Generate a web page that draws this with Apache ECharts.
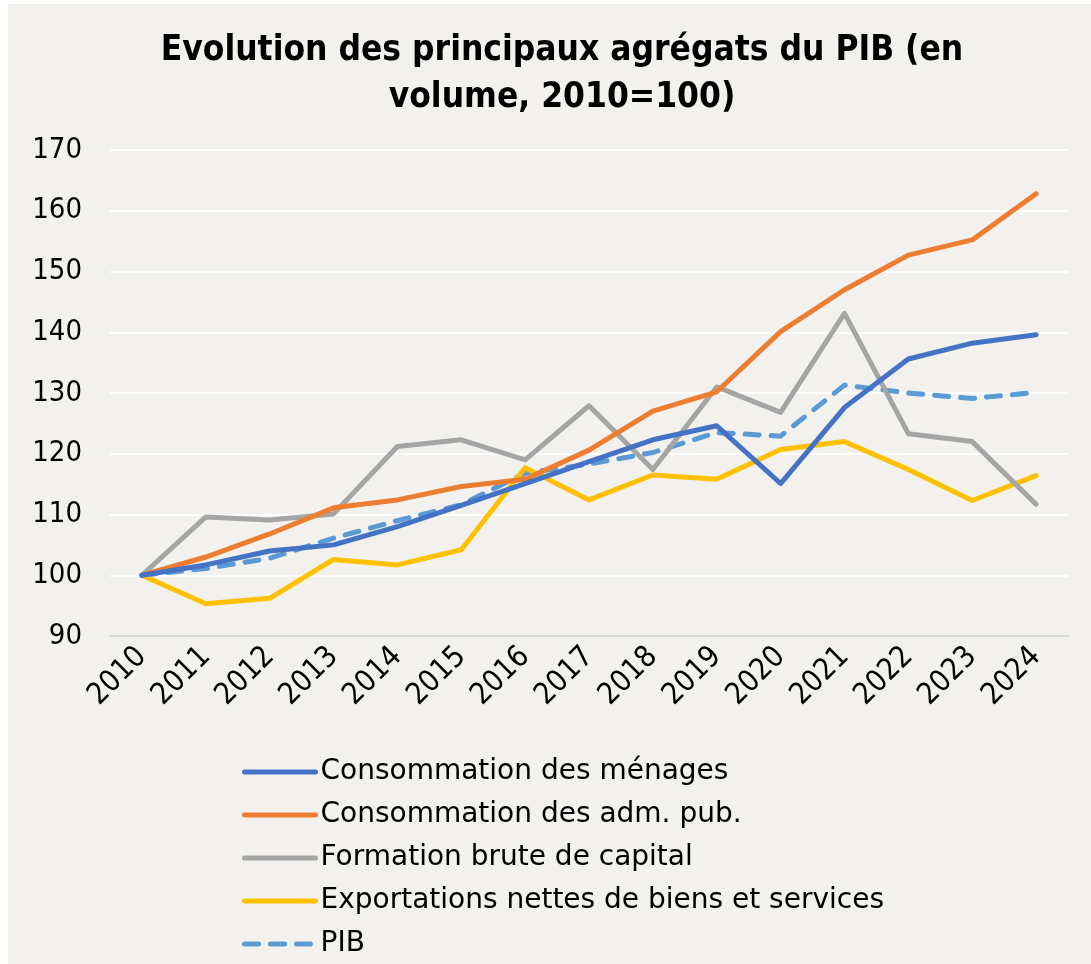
<!DOCTYPE html>
<html>
<head>
<meta charset="utf-8">
<script src="https://cdn.jsdelivr.net/npm/echarts@6/dist/echarts.min.js"></script>
<style>
  html, body { margin: 0; padding: 0; background: #ffffff; }
  #chart { position: absolute; left: 8px; top: 4px; width: 1083px; height: 960px; }
</style>
</head>
<body>
<div id="chart"></div>
<script>
const titleText = "Evolution des principaux agrégats du PIB (en\nvolume, 2010=100)";
const years = ["2010","2011","2012","2013","2014","2015","2016","2017","2018","2019","2020","2021","2022","2023","2024"];
const yTicks = { min: 90, max: 170, interval: 10 };

const menages    = [100, 101.7, 104.0, 105.0, 108.0, 111.5, 115.1, 118.7, 122.3, 124.6, 115.1, 127.6, 135.6, 138.2, 139.6];
const admPub     = [100, 103.0, 106.8, 111.1, 112.4, 114.6, 115.8, 120.6, 127.0, 130.2, 140.1, 147.0, 152.7, 155.2, 162.8];
const fbc        = [100, 109.6, 109.1, 110.1, 121.2, 122.3, 119.0, 127.9, 117.4, 131.0, 126.8, 143.1, 123.3, 122.0, 111.7];
const exports_   = [100, 95.3, 96.2, 102.6, 101.7, 104.2, 117.7, 112.4, 116.5, 115.8, 120.7, 122.0, 117.4, 112.3, 116.4];
const pib        = [100, 101.1, 102.8, 106.1, 109.0, 111.6, 116.8, 118.3, 120.2, 123.5, 122.9, 131.3, 130.0, 129.1, 130.1];

const names = ["Consommation des ménages", "Consommation des adm. pub.", "Formation brute de capital", "Exportations nettes de biens et services", "PIB"];
const colors = ["#4472C4", "#ED7D31", "#A5A5A5", "#FFC000", "#5B9BD5"];
const dataSets = [menages, admPub, fbc, exports_, pib];

const chart = echarts.init(document.getElementById('chart'));
const series = dataSets.map((d, i) => ({
  name: names[i],
  type: 'line',
  data: d,
  symbol: 'none',
  smooth: false,
  z: 10 - i,
  lineStyle: {
    color: colors[i],
    width: 5,
    cap: 'round',
    join: 'round',
    type: i === 4 ? [14, 12] : 'solid'
  },
  itemStyle: { color: colors[i] }
}));

chart.setOption({
  backgroundColor: '#f2f1ed',
  animation: false,
  title: {
    text: titleText,
    left: 549,
    top: 18,
    textAlign: 'center',
    textStyle: {
      fontFamily: 'DejaVu Sans Condensed',
      fontWeight: 'bold',
      fontSize: 35,
      lineHeight: 47,
      color: '#000000'
    }
  },
  grid: { left: 102, right: 23, top: 146, bottom: 328, containLabel: false },
  xAxis: {
    type: 'category',
    data: years,
    boundaryGap: true,
    axisLine: { show: true, lineStyle: { color: '#d9d9d9', width: 2 } },
    axisTick: { show: false },
    axisLabel: {
      rotate: 45,
      margin: 16,
      fontFamily: 'DejaVu Sans Condensed',
      fontSize: 30,
      color: '#000000'
    },
    splitLine: { show: false }
  },
  yAxis: {
    type: 'value',
    min: yTicks.min,
    max: yTicks.max,
    interval: yTicks.interval,
    axisLine: { show: false },
    axisTick: { show: false },
    axisLabel: {
      margin: 28,
      fontFamily: 'DejaVu Sans Condensed',
      fontSize: 29,
      color: '#000000'
    },
    splitLine: { show: true, lineStyle: { color: '#ffffff', width: 2 } }
  },
  legend: {
    orient: 'vertical',
    left: 229,
    top: 748,
    height: 240,
    itemWidth: 71,
    itemHeight: 14,
    itemGap: 13,
    data: names,
    itemStyle: { opacity: 0 },
    lineStyle: { width: 5, cap: 'round' },
    textStyle: {
      fontFamily: 'DejaVu Sans',
      fontSize: 28,
      lineHeight: 30,
      color: '#000000'
    }
  },
  series: series
});
</script>
</body>
</html>
